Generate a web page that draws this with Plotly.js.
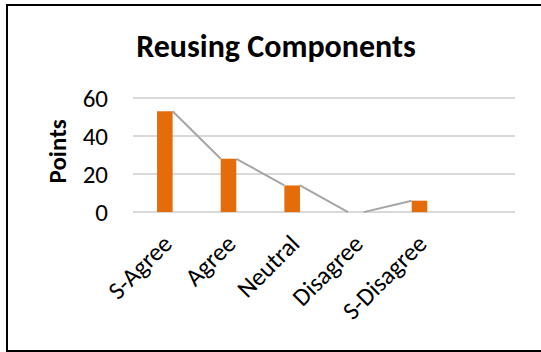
<!DOCTYPE html>
<html>
<head>
<meta charset="utf-8">
<script src="https://cdn.plot.ly/plotly-3.0.1.min.js"></script>
<style>
  html, body { margin: 0; padding: 0; background: #fff; overflow: hidden; }
  #chart { width: 541px; height: 352px; }
  /* chart frame: the right edge lies beyond the visible area */
  #frame { position: absolute; left: 6px; top: 4px; width: 600px; height: 344px;
           border-left: 2px solid #000; border-top: 2px solid #000;
           border-bottom: 2px solid #000; pointer-events: none; }
</style>
</head>
<body>
<div id="chart"></div>
<div id="frame"></div>
<script>
// Survey answers for "Reusing Components"
const categories = ["S-Agree", "Agree", "Neutral", "Disagree", "S-Disagree"];
const points = [53, 28, 14, 0, 6];
const yTicks = [0, 20, 40, 60];

const FONT = "Carlito, Calibri, Lato, sans-serif";
const BAR_W = 0.245;
const xs = categories.map((_, i) => i);

// Connector: from the top-right corner of each bar to the top-left corner of the next
const lineX = [], lineY = [];
for (let i = 0; i < points.length - 1; i++) {
  lineX.push(xs[i] + BAR_W / 2, xs[i + 1] - BAR_W / 2, null);
  lineY.push(points[i], points[i + 1], null);
}

const traces = [
  {
    type: "bar",
    x: xs,
    y: points,
    width: BAR_W,
    marker: { color: "#E46C0A" },
    hoverinfo: "x+y"
  },
  {
    type: "scatter",
    mode: "lines",
    x: lineX,
    y: lineY,
    line: { color: "#A5A5A5", width: 2 },
    connectgaps: false,
    hoverinfo: "skip"
  }
];

const layout = {
  width: 541,
  height: 352,
  margin: { l: 133, r: 26, t: 96.4, b: 138.4 },
  paper_bgcolor: "#fff",
  plot_bgcolor: "#fff",
  showlegend: false,
  font: { family: FONT, color: "#000", size: 25 },
  title: {
    text: "<b>Reusing Components</b>",
    font: { family: FONT, size: 32, color: "#000" },
    xref: "container", yref: "container",
    x: 276 / 541, xanchor: "center",
    y: 1 - 46 / 352, yanchor: "middle"
  },
  xaxis: {
    range: [-0.5, 5.5],
    tickmode: "array",
    tickvals: xs,
    ticktext: categories,
    tickangle: -45,
    showgrid: false,
    zeroline: false,
    showline: false,
    ticks: "",
    ticklabelstandoff: 9,
    tickfont: { family: FONT, size: 25, color: "#000" },
    fixedrange: true
  },
  yaxis: {
    range: [-1, 61],
    tickmode: "array",
    tickvals: yTicks,
    showgrid: true,
    gridcolor: "#D9D9D9",
    gridwidth: 1.5,
    zeroline: true,
    zerolinecolor: "#D9D9D9",
    zerolinewidth: 1.5,
    showline: false,
    ticks: "",
    ticklabelstandoff: 24,
    tickfont: { family: FONT, size: 25, color: "#000" },
    fixedrange: true
  },
  annotations: [
    {
      text: "<b>Points</b>",
      xref: "paper", yref: "paper",
      x: (57.5 - 133) / 382, y: (213.6 - 152) / 117.2,
      xanchor: "center", yanchor: "middle",
      textangle: -90,
      showarrow: false,
      font: { family: FONT, size: 25, color: "#000" }
    }
  ]
};

Plotly.newPlot("chart", traces, layout, { displayModeBar: false, staticPlot: true });
</script>
</body>
</html>
